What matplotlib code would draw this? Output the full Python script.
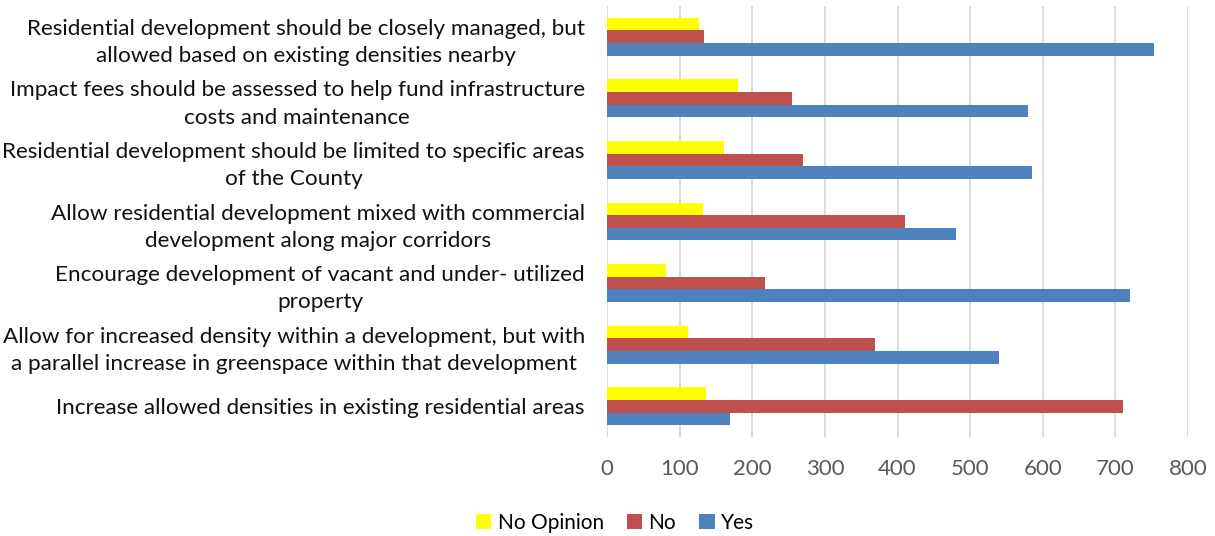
import matplotlib.pyplot as plt
import numpy as np

plt.rcParams['font.family'] = ['Lato', 'DejaVu Sans']

categories = [
    "Increase allowed densities in existing residential areas",
    "Allow for increased density within a development, but with\na parallel increase in greenspace within that development",
    "Encourage development of vacant and under- utilized\nproperty",
    "Allow residential development mixed with commercial\ndevelopment along major corridors",
    "Residential development should be limited to specific areas\nof the County",
    "Impact fees should be assessed to help fund infrastructure\ncosts and maintenance",
    "Residential development should be closely managed, but\nallowed based on existing densities nearby",
]
yes = [169, 540, 720, 480, 585, 580, 753]
no = [711, 369, 217, 410, 270, 255, 133]
no_opinion = [137, 111, 81, 132, 161, 180, 126]
x_ticks = [0, 100, 200, 300, 400, 500, 600, 700, 800]

fig = plt.figure(figsize=(12.15, 5.36), dpi=100)
ax = fig.add_axes([607 / 1215, 1 - 437 / 536, (1188 - 607) / 1215, (437 - 6) / 536])

y = np.arange(len(categories))
h = 0.205
ax.barh(y - h, yes, height=h, color='#4F81BD', label='Yes', zorder=3)
ax.barh(y, no, height=h, color='#C0504D', label='No', zorder=3)
ax.barh(y + h, no_opinion, height=h, color='#FFFF00', label='No Opinion', zorder=3)

ax.set_xlim(0, 800)
ax.set_ylim(-0.5, len(categories) - 0.5)
ax.set_xticks(x_ticks)
ax.set_xticklabels([str(t) for t in x_ticks], fontsize=16, color='#595959')
ax.set_yticks(y)
ax.set_yticklabels(categories, fontsize=16.2, color='#111111', linespacing=1.45,
                   multialignment='center')
ax.tick_params(axis='both', length=0)
ax.tick_params(axis='x', pad=16)
ax.tick_params(axis='y', pad=16)
for s in ax.spines.values():
    s.set_visible(False)
ax.grid(axis='x', color='#D9D9D9', linewidth=1.3, zorder=0)

handles, labels = ax.get_legend_handles_labels()
fig.legend(handles[::-1], labels[::-1], loc='center', bbox_to_anchor=(615 / 1215, 1 - 523 / 536),
           ncol=3, frameon=False, fontsize=15, handlelength=0.75, handleheight=0.75,
           handletextpad=0.3, columnspacing=1.1)

fig.savefig('out.png', dpi=100)
